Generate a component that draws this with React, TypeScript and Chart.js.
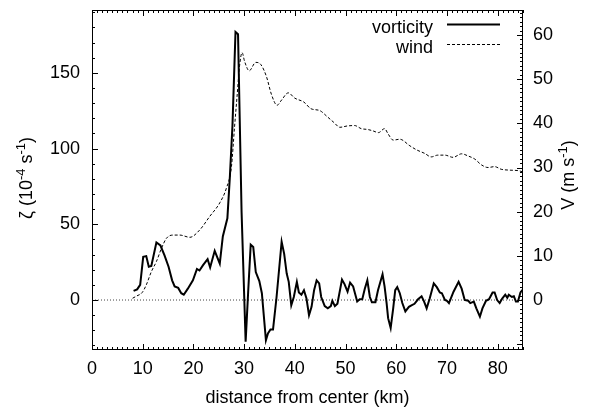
import React, { useEffect, useRef } from 'react';
import { Chart, registerables } from 'chart.js';

Chart.register(...registerables);

const FONT = '"Liberation Sans", Arial, Helvetica, sans-serif';

// vorticity (10^-4 s^-1) vs distance (km)
const vortKm = [
  8.2, 8.9, 9.5, 10.1, 10.7, 11.2, 11.7, 12.7, 13.5, 14.3, 15.1, 15.8, 16.3, 17.0, 17.6, 18.1, 18.9, 19.9,
  20.7, 21.2, 21.9, 22.8, 23.3, 24.2, 25.2, 25.8, 26.7, 27.2, 27.7, 28.3, 28.8, 29.5, 30.3, 30.8, 31.3, 31.8,
  32.3, 33.0, 33.5, 34.3, 34.7, 35.2, 35.7, 36.4, 37.4, 37.9, 38.4, 38.8, 39.3, 39.8, 40.4, 40.8, 41.3, 41.8,
  42.3, 42.8, 43.3, 43.8, 44.3, 44.8, 45.2, 45.9, 46.5, 47.1, 47.4, 47.9, 48.4, 49.3, 49.8, 50.4, 50.9, 51.5,
  52.3, 52.8, 53.3, 53.8, 54.3, 54.8, 55.2, 55.9, 56.4, 57.3, 57.7, 58.1, 58.4, 58.9, 59.4, 59.8, 60.2, 60.7,
  61.2, 61.8, 62.5, 63.0, 63.6, 64.3, 65.0, 65.5, 66.0, 66.6, 67.4, 68.0, 68.6, 69.0, 69.6, 70.0, 70.4, 71.3,
  72.3, 72.9, 73.5, 74.2, 74.6, 75.3, 75.8, 76.5, 77.0, 77.7, 78.3, 79.0, 79.4, 79.9, 80.4, 80.9, 81.5, 81.9,
  82.2, 82.8, 83.2, 83.6, 84.0, 84.5, 85.0,
];
const vortVal = [
  6, 7, 10, 28.5, 29, 22, 22.5, 38, 36, 29.5, 22, 13, 9, 8, 4.5, 3.5, 7.5, 13,
  20.5, 19.5, 23, 27, 21.5, 32.5, 24, 42, 54, 82, 115, 177, 175.5, 58, -27.5, 5.5, 36.5, 35,
  18.5, 12.5, 4.5, -26.5, -22, -19.5, -19.5, 2, 38.5, 30.5, 17.5, 12, -3.5, 2, 12, 5, 3.5, 6.5,
  1, -10, -4.5, 6.5, 13, 11, 2, -4, -5.5, -4, -0.5, -4, -2.5, 13.5, 10.5, 5.5, 11.5, 9,
  -1, 0.5, 0.5, 7.5, 13, 2, -1.5, -1.5, 6.5, 17, 9, -2, -12, -18.5, -5.5, 6.5, 8.5, 4.5,
  -2, -7.5, -4.5, -3.5, -2.5, 0.5, 2.5, -1, -5.5, 1, 11, 8.5, 5, 4.5, 0, -0.5, -2, 5.5,
  12, 7.5, 0, -0.5, -2, -1, -5.5, -11, -5.5, -0.5, 0.5, 5, 5, 0, -2, 1, 3.5, 1.5,
  3.5, 2, 2.5, -1, -1, 5, 7,
];

// wind (m s^-1) vs distance (km)
const windKm = [
  8.0, 8.8, 9.9, 10.7, 11.7, 12.7, 13.7, 14.7, 16.0, 17.3, 19.3, 21.2, 23.2, 25.2, 26.5, 27.5, 28.1, 28.6,
  29.1, 29.6, 30.1, 31.0, 32.3, 33.3, 34.4, 35.4, 36.5, 37.4, 38.7, 40.0, 41.8, 43.2, 44.9, 46.4, 47.7, 48.9,
  50.3, 51.8, 53.1, 54.4, 55.4, 56.5, 57.7, 58.4, 59.4, 60.7, 62.7, 64.0, 65.6, 66.9, 68.2, 69.6, 71.2, 72.9,
  74.2, 75.5, 76.8, 78.1, 79.4, 80.7, 82.4, 84.0, 85.0,
];
const windVal = [
  0.4, 0.9, 1.7, 3.4, 6.4, 8.7, 11.7, 14, 14.7, 14.7, 14.2, 15.8, 18.9, 22, 25.3, 30.2, 39, 46,
  53, 56, 54, 51.9, 53.8, 53.3, 50.6, 46.5, 44.1, 45.3, 46.9, 45.7, 44.8, 43.3, 42.9, 41.5, 40.2, 39.1,
  39.4, 39.5, 38.8, 38.6, 38.3, 37.9, 38.8, 37.6, 36.2, 36.4, 34.9, 34, 33.2, 32.4, 32.8, 32.8, 32.3, 33.1,
  32.6, 31.9, 30.6, 30, 30.2, 29.6, 29.4, 29.3, 29,
];

const zeroKm = [0, 85];
const zeroVal = [0, 0];

const xTicks = [0, 10, 20, 30, 40, 50, 60, 70, 80];
const leftTicks = [0, 50, 100, 150];
const rightTicks = [0, 10, 20, 30, 40, 50, 60];
const seriesNames = ['vorticity', 'wind'];
const xTitle = 'distance from center (km)';
const leftTitle = [
  { t: 'ζ (10', sup: false },
  { t: '-4', sup: true },
  { t: ' s', sup: false },
  { t: '-1', sup: true },
  { t: ')', sup: false },
];
const rightTitle = [
  { t: 'V (m s', sup: false },
  { t: '-1', sup: true },
  { t: ')', sup: false },
];

const X_MIN = 0, X_MAX = 85;
const YL_MIN = -33, YL_MAX = 191.5;
const YR_MIN = -11.32, YR_MAX = 65.66;

function drawRich(ctx: CanvasRenderingContext2D, parts: { t: string; sup: boolean }[], cx: number, cy: number, rot: number) {
  const main = `18px ${FONT}`;
  const sup = `13px ${FONT}`;
  let total = 0;
  const widths = parts.map((p) => {
    ctx.font = p.sup ? sup : main;
    const w = ctx.measureText(p.t).width;
    total += w;
    return w;
  });
  ctx.save();
  ctx.translate(cx, cy);
  ctx.rotate(rot);
  ctx.textAlign = 'left';
  ctx.textBaseline = 'alphabetic';
  let x = -total / 2;
  parts.forEach((p, i) => {
    ctx.font = p.sup ? sup : main;
    ctx.fillText(p.t, x, p.sup ? -7 : 0);
    x += widths[i];
  });
  ctx.restore();
}

const decorPlugin = {
  id: 'decor',
  afterDatasetsDraw(chart: any) {
    const ctx: CanvasRenderingContext2D = chart.ctx;
    const { left, right, top, bottom } = chart.chartArea;
    const sx = chart.scales.x;
    const sy = chart.scales.y;
    const sy2 = chart.scales.y2;
    ctx.save();
    ctx.strokeStyle = '#000';
    ctx.fillStyle = '#000';
    ctx.lineWidth = 1;
    // frame
    ctx.strokeRect(Math.round(left) + 0.5, Math.round(top) + 0.5, Math.round(right - left) - 1, Math.round(bottom - top) - 1);
    ctx.beginPath();
    // x ticks (bottom, mirrored top)
    for (let v = X_MIN; v <= X_MAX; v += 1) {
      const px = Math.round(sx.getPixelForValue(v)) + 0.5;
      const len = v % 10 === 0 ? 6 : 3;
      ctx.moveTo(px, bottom);
      ctx.lineTo(px, bottom - len);
      ctx.moveTo(px, top);
      ctx.lineTo(px, top + len);
    }
    // left ticks
    for (let v = -30; v <= 190; v += 10) {
      const py = Math.round(sy.getPixelForValue(v)) + 0.5;
      const len = v % 50 === 0 ? 6 : 3;
      ctx.moveTo(left, py);
      ctx.lineTo(left + len, py);
    }
    // right ticks
    for (let v = -11; v <= 65; v += 1) {
      const py = Math.round(sy2.getPixelForValue(v)) + 0.5;
      const len = v % 10 === 0 ? 6 : 3;
      ctx.moveTo(right, py);
      ctx.lineTo(right - len, py);
    }
    ctx.stroke();

    // legend
    ctx.font = `18px ${FONT}`;
    ctx.textAlign = 'right';
    ctx.textBaseline = 'alphabetic';
    const legY = [24.5, 44.5];
    seriesNames.forEach((name, i) => {
      ctx.fillText(name, 433, legY[i] + 8.3);
      ctx.save();
      ctx.beginPath();
      ctx.lineWidth = i === 0 ? 2 : 1;
      ctx.setLineDash(i === 0 ? [] : [3, 2]);
      ctx.moveTo(447, legY[i]);
      ctx.lineTo(500, legY[i]);
      ctx.stroke();
      ctx.restore();
    });

    // titles
    ctx.font = `18px ${FONT}`;
    ctx.textAlign = 'center';
    ctx.textBaseline = 'alphabetic';
    ctx.fillText(xTitle, (left + right) / 2, 403);
    drawRich(ctx, leftTitle, 32, 178, -Math.PI / 2);
    drawRich(ctx, rightTitle, 574, 175, -Math.PI / 2);
    ctx.restore();
  },
};

const noPad = (s: any) => {
  s.paddingTop = 0;
  s.paddingBottom = 0;
  s.paddingLeft = 0;
  s.paddingRight = 0;
};

export default function App() {
  const ref = useRef<HTMLCanvasElement>(null);
  useEffect(() => {
    if (!ref.current) return;
    const tickFont = { family: FONT, size: 18 };
    const chart = new Chart(ref.current, {
      type: 'line',
      data: {
        datasets: [
          {
            label: seriesNames[0],
            data: vortKm.map((x, i) => ({ x, y: vortVal[i] })),
            yAxisID: 'y',
            borderColor: '#000',
            borderWidth: 2,
            pointRadius: 0,
            tension: 0,
          },
          {
            label: seriesNames[1],
            data: windKm.map((x, i) => ({ x, y: windVal[i] })),
            yAxisID: 'y2',
            borderColor: '#000',
            borderWidth: 1,
            borderDash: [3, 2],
            pointRadius: 0,
            cubicInterpolationMode: 'monotone',
          },
          {
            label: 'zero',
            data: zeroKm.map((x, i) => ({ x, y: zeroVal[i] })),
            yAxisID: 'y',
            borderColor: '#444',
            borderWidth: 1,
            borderDash: [1, 2],
            pointRadius: 0,
          },
        ],
      },
      options: {
        responsive: false,
        animation: false,
        devicePixelRatio: 1,
        layout: { padding: { top: 10, left: 0, right: 0, bottom: 0 } },
        plugins: { legend: { display: false }, tooltip: { enabled: false } },
        scales: {
          x: {
            type: 'linear',
            position: 'bottom',
            min: X_MIN,
            max: X_MAX,
            afterBuildTicks: (s: any) => { s.ticks = xTicks.map((value) => ({ value })); },
            afterFit: (s: any) => { s.height = 60; noPad(s); },
            ticks: { font: tickFont, color: '#000', padding: 8, maxRotation: 0, autoSkip: false },
            grid: { display: false, drawTicks: false },
            border: { display: false },
          },
          y: {
            type: 'linear',
            position: 'left',
            min: YL_MIN,
            max: YL_MAX,
            afterBuildTicks: (s: any) => { s.ticks = leftTicks.map((value) => ({ value })); },
            afterFit: (s: any) => { s.width = 92; noPad(s); },
            ticks: { font: tickFont, color: '#000', padding: 12 },
            grid: { display: false, drawTicks: false },
            border: { display: false },
          },
          y2: {
            type: 'linear',
            position: 'right',
            min: YR_MIN,
            max: YR_MAX,
            afterBuildTicks: (s: any) => { s.ticks = rightTicks.map((value) => ({ value })); },
            afterFit: (s: any) => { s.width = 70; noPad(s); },
            ticks: { font: tickFont, color: '#000', padding: 10 },
            grid: { display: false, drawTicks: false },
            border: { display: false },
          },
        },
      },
      plugins: [decorPlugin],
    } as any);
    return () => chart.destroy();
  }, []);
  return (
    <div style={{ position: 'fixed', left: 0, top: 0, width: 593, height: 410, background: '#fff' }}>
      <canvas ref={ref} width={593} height={410} style={{ display: 'block', width: 593, height: 410 }} />
    </div>
  );
}
